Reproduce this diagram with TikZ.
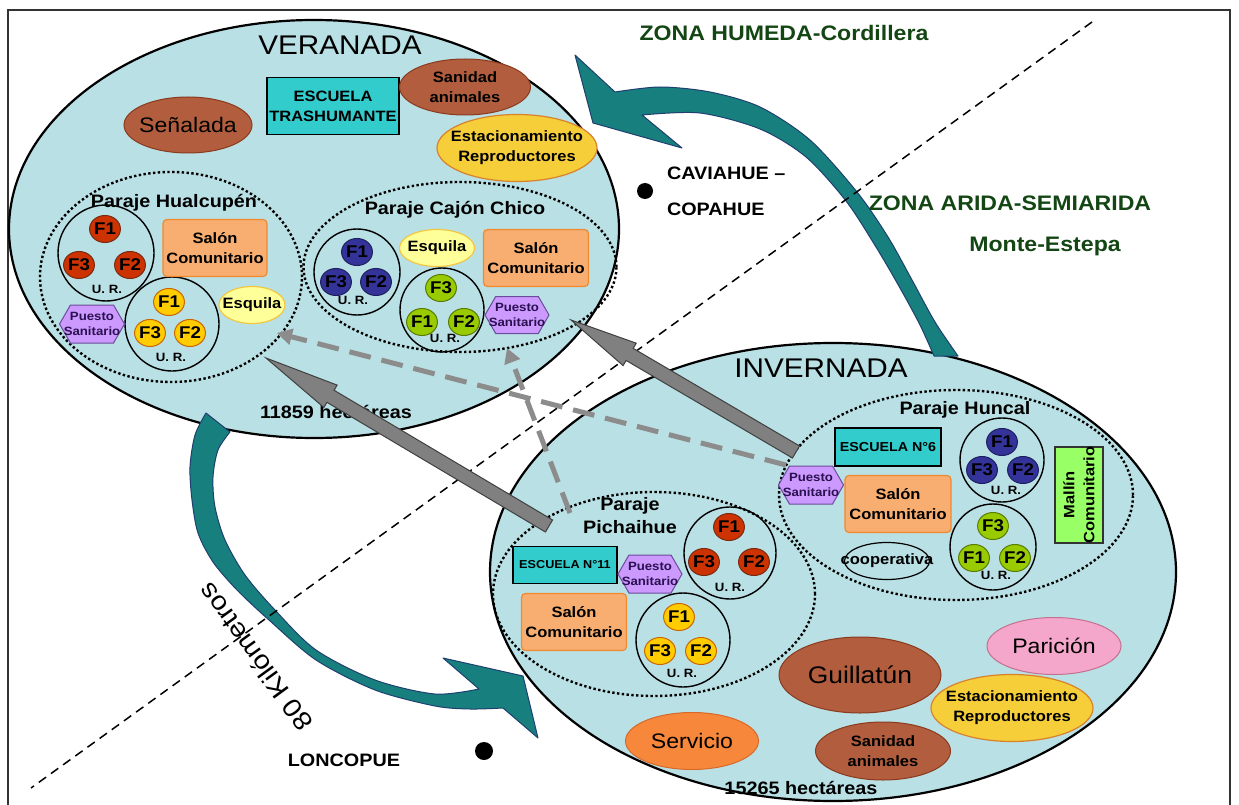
\documentclass[tikz,border=0pt]{standalone}
\usepackage{fontspec}
\setmainfont{Liberation Sans}[FakeStretch=1.1]
\usetikzlibrary{shapes.geometric,shapes.symbols,calc,arrows.meta}

\definecolor{lblue}{RGB}{185,224,228}
\definecolor{brn}{RGB}{178,94,62}
\definecolor{brnd}{RGB}{139,58,30}
\definecolor{yel}{RGB}{245,206,58}
\definecolor{yeld}{RGB}{217,130,43}
\definecolor{sal}{RGB}{247,174,112}
\definecolor{sald}{RGB}{240,138,48}
\definecolor{esq}{RGB}{255,255,153}
\definecolor{esqd}{RGB}{242,199,68}
\definecolor{pur}{RGB}{204,153,255}
\definecolor{purd}{RGB}{107,76,154}
\definecolor{purt}{RGB}{42,16,80}
\definecolor{teal1}{RGB}{23,128,126}
\definecolor{teald}{RGB}{31,63,111}
\definecolor{esc}{RGB}{51,204,204}
\definecolor{mal}{RGB}{153,255,102}
\definecolor{ser}{RGB}{247,135,58}
\definecolor{serd}{RGB}{217,105,42}
\definecolor{par}{RGB}{244,167,203}
\definecolor{pard}{RGB}{196,112,143}
\definecolor{fred}{RGB}{204,51,0}
\definecolor{fredd}{RGB}{122,42,16}
\definecolor{fyel}{RGB}{255,204,0}
\definecolor{fyeld}{RGB}{204,102,0}
\definecolor{fblu}{RGB}{51,51,153}
\definecolor{fblud}{RGB}{31,31,95}
\definecolor{fgrn}{RGB}{153,204,0}
\definecolor{fgrnd}{RGB}{90,122,0}
\definecolor{dgreen}{RGB}{20,70,20}
\definecolor{garr}{RGB}{128,128,128}
\definecolor{gdash}{RGB}{140,140,140}

\newcommand\blockarr[3]{%
  \coordinate (hb) at ($(#2)!#3!(#1)$);
  \filldraw[blockstyle] ($(#1)!7pt!90:(#2)$) -- ($(hb)!7pt!-90:(#1)$) -- ($(hb)!13pt!-90:(#1)$) -- (#2)
    -- ($(hb)!13pt!90:(#1)$) -- ($(hb)!7pt!90:(#1)$) -- ($(#1)!7pt!-90:(#2)$) -- cycle;
}

\begin{document}
\begin{tikzpicture}[x=1pt,y=-1pt,
  every node/.style={inner sep=0pt,outer sep=0pt},
  big/.style={ellipse, draw=black, line width=2.2pt, fill=lblue},
  paraje/.style={ellipse, draw=black, line width=2.4pt, dash pattern=on 2.4pt off 2.4pt},
  urc/.style={circle, draw=black, line width=1.4pt},
  ft/.style={font=\fontsize{17}{18}\selectfont\bfseries},
  fr/.style={ellipse, minimum width=28pt, minimum height=27pt, line width=1pt, fill=fred, draw=fredd, ft},
  fy/.style={ellipse, minimum width=28pt, minimum height=27pt, line width=1pt, fill=fyel, draw=fyeld, ft},
  fb/.style={ellipse, minimum width=28pt, minimum height=27pt, line width=1pt, fill=fblu, draw=fblud, ft},
  fg/.style={ellipse, minimum width=28pt, minimum height=27pt, line width=1pt, fill=fgrn, draw=fgrnd, ft},
  urt/.style={font=\fontsize{12}{14}\selectfont\bfseries},
  b15/.style={font=\fontsize{15}{20}\selectfont\bfseries, align=center},
  b18/.style={font=\fontsize{18}{23}\selectfont\bfseries, align=center},
  pst/.style={font=\fontsize{12}{15.5}\selectfont\bfseries, align=center, text=purt},
  brownell/.style={ellipse, fill=brn, draw=brnd, line width=1pt},
  yelell/.style={ellipse, fill=yel, draw=yeld, line width=1.2pt},
  esqell/.style={ellipse, fill=esq, draw=esqd, line width=1.2pt},
  salon/.style={rectangle, rounded corners=4pt, fill=sal, draw=sald, line width=1.2pt, b15},
  escbox/.style={rectangle, fill=esc, draw=black, line width=1.2pt},
  hex/.style={signal, signal to=east and west, signal pointer angle=120, fill=pur, draw=purd, line width=1pt},
  tealarrow/.style={fill=teal1, draw=teald, line width=1pt, line join=round},
  blockstyle/.style={fill=garr, draw=black!75, line width=1pt, line join=miter},
  gdasharrow/.style={draw=gdash, line width=5pt, dash pattern=on 22pt off 11pt, -{Triangle[length=15pt,width=16pt]}},
  zona/.style={font=\fontsize{21}{24}\selectfont\bfseries, text=dgreen},
]
\fill[white] (0,0) rectangle (1239,805);
\useasboundingbox (0,0) rectangle (1239,805);

% frame
\draw[line width=2pt, draw=black!80] (8,820) -- (8,10) -- (1230,10) -- (1230,820);

% big areas
\node[big, minimum width=610pt, minimum height=418pt] (ver) at (314,229) {};
\node[big, minimum width=686pt, minimum height=458pt] (inv) at (833,572) {};

% teal curved arrows
\filldraw[tealarrow] (575,55) -- (615,92) -- plot[smooth] coordinates {(615,92) (660,87) (710,92) (760,107) (810,140) (857,192) (888,237) (912,280) (935,322) (958,356)}
  -- (934,356) -- plot[smooth] coordinates {(934,356) (920,325) (900,288) (876,247) (846,201) (806,157) (760,129) (700,113) (642,115)}
  -- (682,148) -- (593,123) -- cycle;
\filldraw[tealarrow] (206,413) -- plot[smooth] coordinates {(206,413) (195,435) (190,467) (192,500) (198,533) (213,562) (237,590) (269,620) (316,660) (375,690) (435,706) (470,709) (503,708)}
  -- (538,738) -- (523,676) -- (443,658) -- (479,689)
  -- plot[smooth] coordinates {(479,689) (435,694) (375,680) (316,650) (275,610) (245,575) (225,540) (215,507) (213,477) (218,450) (230,432)} -- cycle;

% zone divider
\coordinate (dv1) at (1092,22);
\coordinate (dv2) at (31,788);
\draw[line width=1.5pt, dash pattern=on 9pt off 6pt] (dv1) -- (dv2);

% zone texts
\node[zona] (zh) at (784,33) {ZONA HUMEDA-Cordillera};
\node[zona] (za) at (1010,203) {ZONA ARIDA-SEMIARIDA};
\node[zona] (zm) at (1045,246) {Monte-Estepa};
\node[circle, fill=black, minimum size=16pt] (cav) at (645,191) {};
\node[anchor=west, font=\fontsize{18}{20}\selectfont\bfseries] (cav1) at (667,173) {CAVIAHUE –};
\node[anchor=west, font=\fontsize{18}{20}\selectfont\bfseries] (cav2) at (667,209) {COPAHUE};
\node[circle, fill=black, minimum size=18pt] (lon) at (484,751) {};
\node[font=\fontsize{18}{20}\selectfont\bfseries] (lont) at (344,760) {LONCOPUE};
\node[font=\fontsize{26}{28}\selectfont, rotate=126] (km) at (255,657) {80 Kilómetros};

% ===== VERANADA =====
\node[font=\fontsize{27}{30}\selectfont] (vt) at (340,45) {VERANADA};
\node[brownell, minimum width=128pt, minimum height=56pt, label={[font=\fontsize{21}{24}\selectfont]center:Señalada}] (sen) at (188,125) {};
\node[escbox, minimum width=132pt, minimum height=57pt, b15] (esc1) at (333,106) {ESCUELA\\TRASHUMANTE};
\node[brownell, minimum width=131pt, minimum height=56pt, label={[b15]center:{Sanidad\\animales}}] (san1) at (465,87) {};
\node[yelell, minimum width=160pt, minimum height=67pt, label={[b15]center:{Estacionamiento\\Reproductores}}] (est1) at (517,148) {};

% Paraje Hualcupen
\node[paraje, minimum width=262pt, minimum height=210pt] (hua) at (171,277) {};
\node[b18] (huat) at (174,203) {Paraje Hualcupén};
\node[urc, minimum size=96pt] (hu1) at (106,253) {};
\node[fr] (hu1a) at (105,229) {F1};
\node[fr] (hu1b) at (130,265) {F2};
\node[fr] (hu1c) at (79,265) {F3};
\node[urt] (hu1t) at (107,289) {U. R.};
\node[urc, minimum size=94pt] (hu2) at (172,324) {};
\node[fy] (hu2a) at (169,302) {F1};
\node[fy] (hu2b) at (190,333) {F2};
\node[fy] (hu2c) at (150,333) {F3};
\node[urt] (hu2t) at (171,357) {U. R.};
\node[salon, minimum width=104pt, minimum height=57pt] (sal1) at (215,248) {Salón\\Comunitario};
\node[esqell, minimum width=66pt, minimum height=37pt, label={[b15]center:Esquila}] (esq1) at (252,305) {};
\node[hex, minimum width=65pt, minimum height=38pt, label={[pst]center:{Puesto\\Sanitario}}] (pue1) at (92,324) {};

% Paraje Cajon Chico
\node[paraje, minimum width=313pt, minimum height=170pt] (caj) at (460,267) {};
\node[b18] (cajt) at (455,210) {Paraje Cajón Chico};
\node[urc, minimum size=86pt] (ca1) at (357,272) {};
\node[fb] (ca1a) at (357,252) {F1};
\node[fb] (ca1b) at (376,282) {F2};
\node[fb] (ca1c) at (336,282) {F3};
\node[urt] (ca1t) at (353,300) {U. R.};
\node[esqell, minimum width=75pt, minimum height=37pt, label={[b15]center:Esquila}] (esq2) at (437,248) {};
\node[salon, minimum width=105pt, minimum height=57pt] (sal2) at (536,258) {Salón\\Comunitario};
\node[urc, minimum size=84pt] (ca2) at (442,310) {};
\node[fg] (ca2a) at (441,288) {F3};
\node[fg] (ca2b) at (422,322) {F1};
\node[fg] (ca2c) at (464,322) {F2};
\node[urt] (ca2t) at (445,338) {U. R.};
\node[hex, minimum width=64pt, minimum height=37pt, label={[pst]center:{Puesto\\Sanitario}}] (pue2) at (517,315) {};
\node[b18] (hv) at (336,412) {11859 hectáreas};

% ===== INVERNADA =====
\node[font=\fontsize{27}{30}\selectfont] (it) at (821,368) {INVERNADA};

% Paraje Huncal
\node[paraje, minimum width=354pt, minimum height=210pt] (hun) at (956,495) {};
\node[b18] (hunt) at (965,410) {Paraje Huncal};
\node[escbox, minimum width=106pt, minimum height=38pt, font=\fontsize{13}{15}\selectfont\bfseries] (esc6) at (888,447) {ESCUELA N°6};
\node[hex, minimum width=65pt, minimum height=38pt, label={[pst]center:{Puesto\\Sanitario}}] (pue3) at (811,485) {};
\node[salon, minimum width=106pt, minimum height=57pt] (sal3) at (898,504) {Salón\\Comunitario};
\node[ellipse, draw=black, line width=1.2pt, minimum width=85pt, minimum height=37pt, label={[b15]center:cooperativa}] (coop) at (887,561) {};
\node[urc, minimum size=84pt] (hn1) at (1002,460) {};
\node[fb] (hn1a) at (1002,442) {F1};
\node[fb] (hn1b) at (1023,470) {F2};
\node[fb] (hn1c) at (982,470) {F3};
\node[urt] (hn1t) at (1006,490) {U. R.};
\node[urc, minimum size=86pt] (hn2) at (993,547) {};
\node[fg] (hn2a) at (993,526) {F3};
\node[fg] (hn2b) at (974,558) {F1};
\node[fg] (hn2c) at (1015,558) {F2};
\node[urt] (hn2t) at (996,575) {U. R.};
\node[rectangle, fill=mal, draw=black!80, line width=1.2pt, minimum width=48pt, minimum height=96pt, label={[b15, rotate=90]center:{Mallín\\Comunitario}}] (mal) at (1079,495) {};

% Paraje Pichaihue
\node[paraje, minimum width=322pt, minimum height=204pt] (pic) at (654,594) {};
\node[b18] (pict) at (630,516) {Paraje\\Pichaihue};
\node[escbox, minimum width=104pt, minimum height=37pt, font=\fontsize{11.5}{14}\selectfont\bfseries] (esc11) at (565,565) {ESCUELA N°11};
\node[hex, minimum width=64pt, minimum height=38pt, label={[pst]center:{Puesto\\Sanitario}}] (pue4) at (650,574) {};
\node[salon, minimum width=105pt, minimum height=57pt] (sal4) at (574,622) {Salón\\Comunitario};
\node[urc, minimum size=92pt] (pi1) at (730,553) {};
\node[fr] (pi1a) at (729,527) {F1};
\node[fr] (pi1b) at (754,562) {F2};
\node[fr] (pi1c) at (704,562) {F3};
\node[urt] (pi1t) at (730,587) {U. R.};
\node[urc, minimum size=94pt] (pi2) at (683,640) {};
\node[fy] (pi2a) at (679,617) {F1};
\node[fy] (pi2b) at (701,651) {F2};
\node[fy] (pi2c) at (660,651) {F3};
\node[urt] (pi2t) at (682,673) {U. R.};

% activities invernada
\node[ellipse, fill=par, draw=pard, line width=1pt, minimum width=134pt, minimum height=57pt, label={[font=\fontsize{21}{24}\selectfont]center:Parición}] (pari) at (1054,646) {};
\node[brownell, minimum width=162pt, minimum height=76pt, label={[font=\fontsize{24}{27}\selectfont]center:Guillatún}] (gui) at (860,675) {};
\node[yelell, minimum width=162pt, minimum height=67pt, label={[b15]center:{Estacionamiento\\Reproductores}}] (est2) at (1012,708) {};
\node[ellipse, fill=ser, draw=serd, line width=1pt, minimum width=133pt, minimum height=57pt, label={[font=\fontsize{21}{24}\selectfont]center:Servicio}] (serv) at (692,741) {};
\node[brownell, minimum width=135pt, minimum height=58pt, label={[b15]center:{Sanidad\\animales}}] (san2) at (883,751) {};
\node[b18] (iv) at (801,788) {15265 hectáreas};

% dashed gray arrows
\coordinate (da1s) at (786,465);
\coordinate (da1e) at (277,333);
\coordinate (da2s) at (570,513);
\coordinate (da2e) at (507,348);
\draw[gdasharrow] (da1s) -- (da1e);
\draw[gdasharrow] (da2s) -- (da2e);

% block arrows
\coordinate (ba1s) at (549,526);
\coordinate (ba1e) at (266,358);
\coordinate (ba2s) at (796,452);
\coordinate (ba2e) at (571,320);
\blockarr{ba1s}{ba1e}{75pt}
\blockarr{ba2s}{ba2e}{68pt}
\end{tikzpicture}
\end{document}
